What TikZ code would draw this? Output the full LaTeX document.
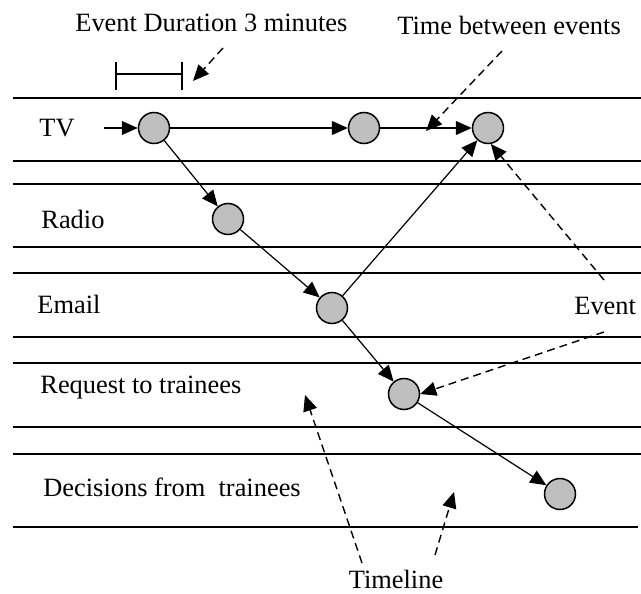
\documentclass[tikz,border=0pt]{standalone}
\usepackage{fontspec}
\setmainfont{Liberation Serif}
\usetikzlibrary{arrows.meta}

\begin{document}
\begin{tikzpicture}[
    x=0.5pt, y=-0.5pt,
    event/.style={circle, draw=black, fill=black!25, line width=0.75pt, minimum size=15.5pt, inner sep=0pt},
    lbl/.style={inner sep=0pt, font=\fontsize{13.2}{15}\selectfont},
    lane/.style={line width=0.9pt},
    link/.style={-{Triangle[length=8pt, width=7pt]}, line width=0.6pt},
    pointer/.style={link, dash pattern=on 4pt off 2.5pt, line width=0.7pt}
]
    \useasboundingbox (0,0) rectangle (641,593);

    % lanes
    \foreach \y in {98,161,184,247,273,337,363,427,454}
        \draw[lane] (13,\y) -- (641,\y);
    \draw[lane] (13,527) -- (638,527);

    % lane and note labels
    \node[lbl, anchor=base west] (tTV) at (39,137) {TV};
    \node[lbl, anchor=base west] (tRadio) at (41,228) {Radio};
    \node[lbl, anchor=base west] (tEmail) at (37,313) {Email};
    \node[lbl, anchor=base west] (tReq) at (40,393) {Request to trainees};
    \node[lbl, anchor=base west] (tDec) at (43,496) {Decisions from~ trainees};
    \node[lbl, anchor=base west] (tDur) at (75,32) {Event Duration 3 minutes};
    \node[lbl, anchor=base west] (tGap) at (397,35) {Time between events};
    \node[lbl, anchor=base west] (tEvent) at (574,314) {Event};
    \node[lbl, anchor=base] (tLine) at (396,588) {Timeline};

    % events
    \node[event] (tv1) at (154,128) {};
    \node[event] (tv2) at (364,128) {};
    \node[event] (tv3) at (488,128) {};
    \node[event] (radio) at (228,219) {};
    \node[event] (email) at (332,308) {};
    \node[event] (req) at (404,394) {};
    \node[event] (dec) at (560,494) {};

    \coordinate (start) at (104,128);
    \draw[link] (start) -- (tv1);
    \draw[link] (tv1) -- (tv2);
    \draw[link] (tv2) -- (tv3);
    \draw[link] (tv1) -- (radio);
    \draw[link] (radio) -- (email);
    \draw[link] (email) -- (tv3);
    \draw[link] (email) -- (req);
    \draw[link] (req) -- (dec);

    % duration bar
    \draw[line width=0.75pt] (116,62) -- (116,90) (182,62) -- (182,90) (116,74) -- (182,74);

    % dashed pointers
    \coordinate (pDur) at (223,48);
    \coordinate (qDur) at (193,81);
    \coordinate (pGap) at (502,51);
    \coordinate (qGap) at (426,131);
    \coordinate (pEvA) at (604,280);
    \coordinate (pEvB) at (604,332);
    \coordinate (pLnA) at (362,563);
    \coordinate (qLnA) at (305,395);
    \coordinate (pLnB) at (435,555);
    \coordinate (qLnB) at (454,492);
    \draw[pointer] (pDur) -- (qDur);
    \draw[pointer] (pGap) -- (qGap);
    \draw[pointer] (pEvA) -- (tv3.-80);
    \draw[pointer] (pEvB) -- (req.east);
    \draw[pointer] (pLnA) -- (qLnA);
    \draw[pointer] (pLnB) -- (qLnB);
\end{tikzpicture}
\end{document}
